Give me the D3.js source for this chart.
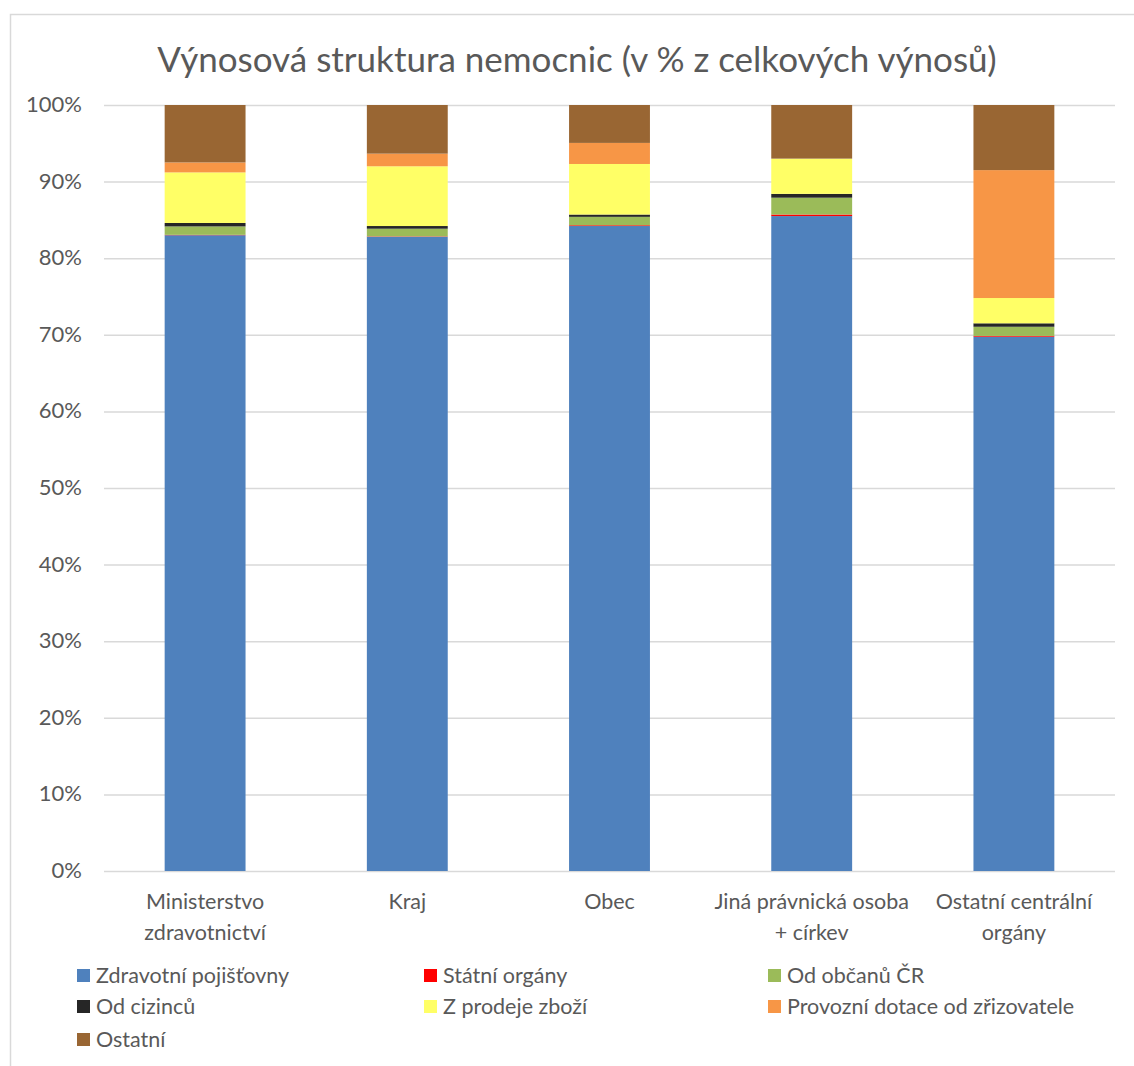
<!DOCTYPE html>
<html>
<head>
<meta charset="utf-8">
<script src="https://cdn.jsdelivr.net/npm/d3@7"></script>
<style>
  body { margin: 0; background: #fff; }
  text { font-family: Lato, "Open Sans", sans-serif; fill: #595959; }
</style>
</head>
<body>
<svg id="chart" width="1134" height="1066"></svg>
<script>
// --- données ---
const categories = [
  ["Ministerstvo", "zdravotnictví"],
  ["Kraj"],
  ["Obec"],
  ["Jiná právnická osoba", "+ církev"],
  ["Ostatní centrální", "orgány"]
];
const seriesNames = [
  "Zdravotní pojišťovny", "Státní orgány", "Od občanů ČR",
  "Od cizinců", "Z prodeje zboží", "Provozní dotace od zřizovatele", "Ostatní"
];
const seriesColors = ["#4F81BD", "#FF0000", "#9BBB59", "#262626", "#FFFF66", "#F79646", "#996633"];

// valeurs en % (une ligne par série, une colonne par catégorie)
const pojistovny = [83.0, 82.8, 84.2, 85.5, 69.75];
const statni     = [0.05, 0.05, 0.1, 0.2, 0.1];
const obcane     = [1.1, 1.0, 1.1, 2.2, 1.2];
const cizinci    = [0.45, 0.35, 0.3, 0.5, 0.45];
const zbozi      = [6.6, 7.8, 6.6, 4.6, 3.3];
const dotace     = [1.3, 1.65, 2.75, 0.0, 16.7];
const ostatni    = [7.5, 6.35, 4.95, 7.0, 8.5];
const yTicks = [0, 10, 20, 30, 40, 50, 60, 70, 80, 90, 100];

const seriesValues = [pojistovny, statni, obcane, cizinci, zbozi, dotace, ostatni];

const svg = d3.select("#chart");
const margin = { left: 104, right: 1115, top: 105, bottom: 871 };

// bordure du graphique
svg.append("rect")
  .attr("x", 10.5).attr("y", 14.5)
  .attr("width", 1200).attr("height", 1100)
  .attr("fill", "none").attr("stroke", "#D9D9D9").attr("stroke-width", 1.5);

// titre
svg.append("text")
  .attr("x", 577).attr("y", 72)
  .attr("text-anchor", "middle")
  .style("font-size", "35px")
  .text("Výnosová struktura nemocnic (v % z celkových výnosů)");

const x = d3.scaleBand()
  .domain(d3.range(categories.length))
  .range([margin.left, margin.right])
  .paddingInner(0.6).paddingOuter(0.3);

const y = d3.scaleLinear().domain([0, 100]).range([margin.bottom, margin.top]);

// grille
svg.append("g").selectAll("line")
  .data(yTicks)
  .join("line")
  .attr("x1", margin.left).attr("x2", margin.right)
  .attr("y1", d => y(d) + 0.5).attr("y2", d => y(d) + 0.5)
  .attr("stroke", "#D9D9D9").attr("stroke-width", 1.5);

// axe Y
svg.append("g").selectAll("text")
  .data(yTicks)
  .join("text")
  .attr("x", 82).attr("y", d => y(d) + 7)
  .attr("text-anchor", "end")
  .style("font-size", "22px")
  .text(d => d + "%");

// empilement
const rows = categories.map((c, i) => {
  const r = { idx: i };
  seriesNames.forEach((s, j) => { r[s] = seriesValues[j][i]; });
  return r;
});
const stacked = d3.stack().keys(seriesNames)(rows);

svg.append("g").selectAll("g")
  .data(stacked)
  .join("g")
  .attr("fill", (d, i) => seriesColors[i])
  .selectAll("rect")
  .data(d => d)
  .join("rect")
  .attr("x", d => x(d.data.idx))
  .attr("width", x.bandwidth())
  .attr("y", d => y(d[1]))
  .attr("height", d => y(d[0]) - y(d[1]));

// étiquettes des catégories
const catLabels = svg.append("g").selectAll("text")
  .data(categories)
  .join("text")
  .attr("text-anchor", "middle")
  .style("font-size", "21.5px")
  .attr("transform", (d, i) => `translate(${x(i) + x.bandwidth() / 2},909)`);
catLabels.selectAll("tspan")
  .data(d => d)
  .join("tspan")
  .attr("x", 0)
  .attr("dy", (d, i) => i === 0 ? 0 : 31)
  .text(d => d);

// légende
const legendCols = [77, 424, 768];
const legendRows = [976, 1007, 1040];
const legend = svg.append("g").selectAll("g")
  .data(seriesNames)
  .join("g")
  .attr("transform", (d, i) => `translate(${legendCols[i % 3]},${legendRows[Math.floor(i / 3)]})`);
legend.append("rect")
  .attr("x", 0).attr("y", -7)
  .attr("width", 13).attr("height", 13)
  .attr("fill", (d, i) => seriesColors[i]);
legend.append("text")
  .attr("x", 19).attr("y", 7)
  .style("font-size", "21.5px")
  .text(d => d);
</script>
</body>
</html>
